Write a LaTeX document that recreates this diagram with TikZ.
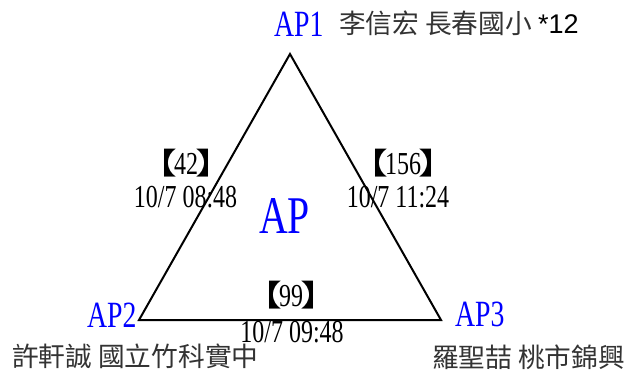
\documentclass[tikz,border=0pt]{standalone}
\usepackage{fontspec}
\setmainfont{Liberation Serif}[FakeStretch=0.75]
\newfontfamily\cjk{Noto Sans CJK TC}
\newfontfamily\cjkbr{Noto Sans CJK TC}[FakeStretch=1.3]
\newfontfamily\arialsans{Liberation Sans}
\definecolor{lbl}{HTML}{333333}
\tikzset{
  aplabel/.style={text=blue, font=\fontsize{37}{37}\selectfont, inner sep=0pt, anchor=base west},
  datelbl/.style={text=black, font=\fontsize{32}{32}\selectfont, inner sep=0pt, anchor=base},
  brlbl/.style={text=black, font=\fontsize{32}{32}\selectfont, inner sep=0pt, anchor=base},
  cjklbl/.style={text=lbl, font=\cjk\fontsize{26.7}{26.7}\selectfont, inner sep=0pt, anchor=base west},
  edge/.style={draw=black, line width=2pt, line join=miter}
}
\newcommand{\lb}{{\cjkbr\fontsize{30}{30}\selectfont 【}}
\newcommand{\rb}{{\cjkbr\fontsize{30}{30}\selectfont 】}}
\begin{document}
\begin{tikzpicture}[x=1pt,y=-1pt]
\useasboundingbox[fill=white] (0,0) rectangle (629,376);
\coordinate (v1) at (290,54);
\coordinate (v2) at (139,320);
\coordinate (v3) at (441,320);
\draw[edge] (v1) -- (v2) -- (v3) -- cycle;
\node[aplabel] (ap1) at (274,36) {AP1};
\node[aplabel] (ap2) at (87,327) {AP2};
\node[aplabel] (ap3) at (455,326) {AP3};
\node[text=blue, font=\fontsize{53}{53}\selectfont, inner sep=0pt, anchor=base] (ap) at (284.5,233) {AP};
\node[brlbl] (b12) at (186,174) {\lb\hspace{-3pt}42\hspace{-3pt}\rb};
\node[brlbl] (b13) at (403,174) {\lb\hspace{-3pt}156\hspace{-3pt}\rb};
\node[brlbl] (b23) at (291,306) {\lb\hspace{-3pt}99\hspace{-3pt}\rb};
\node[datelbl] (d12) at (185.5,207) {10/7 08:48};
\node[datelbl] (d13) at (398,207) {10/7 11:24};
\node[datelbl] (d23) at (292,342) {10/7 09:48};
\node[cjklbl] (n1) at (339,33) {李信宏 長春國小 {\arialsans\fontsize{27}{27}\selectfont\color{black}*12}};
\node[cjklbl] (n2) at (12,366) {許軒誠 國立竹科實中};
\node[cjklbl] (n3) at (432,367) {羅聖喆 桃市錦興};
\end{tikzpicture}
\end{document}
